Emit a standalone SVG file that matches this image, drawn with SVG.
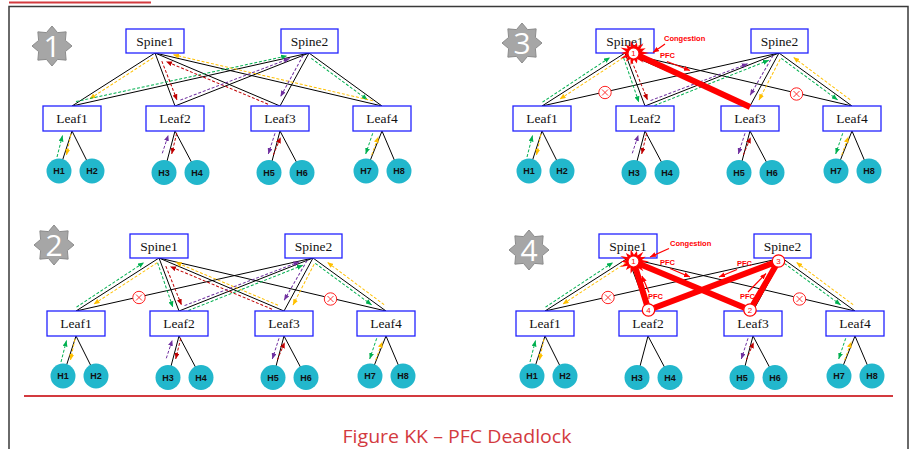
<svg xmlns="http://www.w3.org/2000/svg" width="912" height="449" viewBox="0 0 912 449">
<defs>
<style>
.lk{stroke:#000;stroke-width:1;fill:none}
.f{fill:none;stroke-width:1;stroke-dasharray:3 1.8}
.g{stroke:#00b050;marker-end:url(#mg)}
.y{stroke:#ffc000;marker-end:url(#my)}
.r{stroke:#c00000;marker-end:url(#mr)}
.p{stroke:#7030a0;marker-end:url(#mp)}
.box{fill:#fff;stroke:#2222ff;stroke-width:1.3}
.nl{font-family:"Liberation Serif","Times New Roman",serif;font-size:13.5px;text-anchor:middle;fill:#111}
.hc{fill:#22b7cc}
.ht{font-family:"Liberation Sans",Arial,sans-serif;font-weight:bold;font-size:9px;text-anchor:middle;fill:#111}
.star{fill:#a6a6a6;stroke:#8c8c8c;stroke-width:1}
.sn{font-family:"Open Sans","Liberation Sans",sans-serif;font-size:30px;fill:#fff;text-anchor:middle}
.xc{fill:#fff;stroke:#ff2020;stroke-width:1}
.xx{stroke:#ff2020;stroke-width:0.9;fill:none}
.thick{fill:none;stroke:#ff0000;stroke-width:6;stroke-linejoin:round}
.burst{fill:#ff0000}
.nc{fill:#fff;stroke:#ff0000;stroke-width:1.2}
.nt{font-family:"Liberation Sans",Arial,sans-serif;font-size:8px;fill:#ff0000;text-anchor:middle}
.rt{font-family:"Liberation Sans",Arial,sans-serif;font-weight:bold;font-size:7.5px;fill:#ff0000}
.ra{fill:none;stroke:#ff0000;stroke-width:1.2;marker-end:url(#mra)}
</style>
<marker id="mg" viewBox="0 0 12 10" refX="12" refY="5" markerWidth="6" markerHeight="5" markerUnits="userSpaceOnUse" orient="auto"><path d="M0,0 L12,5 L0,10 z" fill="#00b050"/></marker>
<marker id="my" viewBox="0 0 12 10" refX="12" refY="5" markerWidth="6" markerHeight="5" markerUnits="userSpaceOnUse" orient="auto"><path d="M0,0 L12,5 L0,10 z" fill="#ffc000"/></marker>
<marker id="mr" viewBox="0 0 12 10" refX="12" refY="5" markerWidth="6" markerHeight="5" markerUnits="userSpaceOnUse" orient="auto"><path d="M0,0 L12,5 L0,10 z" fill="#c00000"/></marker>
<marker id="mp" viewBox="0 0 12 10" refX="12" refY="5" markerWidth="6" markerHeight="5" markerUnits="userSpaceOnUse" orient="auto"><path d="M0,0 L12,5 L0,10 z" fill="#7030a0"/></marker>
<marker id="mra" viewBox="0 0 12 10" refX="12" refY="5" markerWidth="6" markerHeight="5" markerUnits="userSpaceOnUse" orient="auto"><path d="M0,0 L12,5 L0,10 z" fill="#ff0000"/></marker>
<path id="links" class="lk" d="M155,53 L72,106 M155,53 L175,106 M155,53 L280,106 M155,53 L382,106 M309,53 L72,106 M309,53 L175,106 M309,53 L280,106 M309,53 L382,106 M72,131 L59,171 M72,131 L92,171 M175,131 L164,172.5 M175,131 L197,172.5 M280,131 L269,172.5 M280,131 L302,172.5 M382,131 L366,171 M382,131 L399,171"/>
<polygon id="star8" class="star" points="0,-20 5.55,-13.4 14.14,-14.14 13.4,-5.55 20,0 13.4,5.55 14.14,14.14 5.55,13.4 0,20 -5.55,13.4 -14.14,14.14 -13.4,5.55 -20,0 -13.4,-5.55 -14.14,-14.14 -5.55,-13.4"/>
<polygon id="burst" class="burst" points="14,0 7.31,1.67 10.81,5.21 5.86,4.68 8.73,10.95 3.25,6.76 2.67,11.7 0,7.5 -3.12,13.65 -3.25,6.76 -7.48,9.38 -5.86,4.68 -12.61,6.08 -7.31,1.67 -12,0 -7.31,-1.67 -12.61,-6.08 -5.86,-4.68 -7.48,-9.38 -3.25,-6.76 -3.12,-13.65 0,-7.5 2.67,-11.7 3.25,-6.76 8.73,-10.95 5.86,-4.68 10.81,-5.21 7.31,-1.67"/>
<g id="hostarrows-all">
<path class="f g" d="M57,157 L62.5,135.5"/>
<path class="f y" d="M71,134 L66.5,155"/>
<path class="f p" d="M162.3,153.3 L168.3,135"/>
<path class="f r" d="M176.7,133.3 L171.7,154"/>
<path class="f p" d="M275,133.3 L268.3,154"/>
<path class="f r" d="M273.3,155 L280.7,137.3"/>
<path class="f g" d="M372.7,133.3 L365.7,154"/>
<path class="f y" d="M371.7,155 L378.3,136.7"/>
</g>
</defs>

<g id="frame">
<path d="M9,449 L9,6.5 L908,6.5 L908,449" fill="none" stroke="#3a3a3a" stroke-width="1.5"/>
<line x1="9" y1="2.5" x2="151" y2="2.5" stroke="#d33a3f" stroke-width="2"/>
<line x1="24" y1="396" x2="893" y2="396" stroke="#d33a3f" stroke-width="2"/>
<text x="457" y="443" font-family="'Open Sans','Liberation Sans',sans-serif" font-size="19" fill="#d33a3f" text-anchor="middle" textLength="229" lengthAdjust="spacingAndGlyphs">Figure KK – PFC Deadlock</text>
</g>

<g id="badge1"><use href="#star8" x="52" y="46"/><text class="sn" x="52" y="56.5">1</text></g>
<g id="badge2"><use href="#star8" x="54" y="245"/><text class="sn" x="54" y="255.5">2</text></g>
<g id="badge3"><use href="#star8" x="522" y="43"/><text class="sn" x="522" y="53.5">3</text></g>
<g id="badge4"><use href="#star8" x="529" y="250"/><text class="sn" x="529" y="260.5">4</text></g>

<g id="panel1">
<g id="p1-connectors">
<use href="#links"/>
<g transform="translate(155,53) rotate(147.44)"><line class="f y" x1="4" y1="-3" x2="80" y2="-3.5"/></g>
<g transform="translate(309,53) rotate(167.39)"><line class="f g" x1="238" y1="3.5" x2="22" y2="2"/></g>
<g transform="translate(309,53) rotate(35.98)"><line class="f g" x1="5" y1="3" x2="75" y2="3.5"/></g>
<g transform="translate(155,53) rotate(13.14)"><line class="f y" x1="223" y1="-3" x2="18" y2="-2.5"/></g>
<g transform="translate(155,53) rotate(22.98)"><line class="f r" x1="124" y1="3" x2="13.5" y2="3.5"/></g>
<g transform="translate(155,53) rotate(69.33)"><line class="f r" x1="10" y1="-3.5" x2="52" y2="-4"/></g>
<g transform="translate(309,53) rotate(158.42)"><line class="f p" x1="137" y1="3.5" x2="20" y2="2"/></g>
<g transform="translate(309,53) rotate(118.69)"><line class="f p" x1="5" y1="4" x2="52" y2="4"/></g>
<use href="#hostarrows-all"/>
</g>
<g id="p1-spine1"><rect class="box" x="126" y="29" width="58" height="24"/><text class="nl" x="155" y="46">Spine1</text></g>
<g id="p1-spine2"><rect class="box" x="281" y="29" width="57" height="24"/><text class="nl" x="309.5" y="46">Spine2</text></g>
<g id="p1-leaf1"><rect class="box" x="43" y="106" width="58" height="25"/><text class="nl" x="72" y="123">Leaf1</text></g>
<g id="p1-leaf2"><rect class="box" x="146" y="106" width="58" height="25"/><text class="nl" x="175" y="123">Leaf2</text></g>
<g id="p1-leaf3"><rect class="box" x="251" y="106" width="58" height="25"/><text class="nl" x="280" y="123">Leaf3</text></g>
<g id="p1-leaf4"><rect class="box" x="353" y="106" width="58" height="25"/><text class="nl" x="382" y="123">Leaf4</text></g>
<g id="p1-h1"><circle class="hc" cx="59" cy="171" r="12.5"/><text class="ht" x="59" y="174.2">H1</text></g>
<g id="p1-h2"><circle class="hc" cx="92" cy="171" r="12.5"/><text class="ht" x="92" y="174.2">H2</text></g>
<g id="p1-h3"><circle class="hc" cx="164" cy="172.5" r="12.5"/><text class="ht" x="164" y="175.7">H3</text></g>
<g id="p1-h4"><circle class="hc" cx="197" cy="172.5" r="12.5"/><text class="ht" x="197" y="175.7">H4</text></g>
<g id="p1-h5"><circle class="hc" cx="269" cy="172.5" r="12.5"/><text class="ht" x="269" y="175.7">H5</text></g>
<g id="p1-h6"><circle class="hc" cx="302" cy="172.5" r="12.5"/><text class="ht" x="302" y="175.7">H6</text></g>
<g id="p1-h7"><circle class="hc" cx="366" cy="171" r="12.5"/><text class="ht" x="366" y="174.2">H7</text></g>
<g id="p1-h8"><circle class="hc" cx="399" cy="171" r="12.5"/><text class="ht" x="399" y="174.2">H8</text></g>
</g>

<g id="panel2" transform="translate(4,205)">
<g id="p2-connectors">
<use href="#links"/>
<g transform="translate(155,53) rotate(147.44)"><line class="f g" x1="96" y1="3" x2="15" y2="4.3"/><line class="f y" x1="4" y1="-3" x2="80" y2="-3.8"/></g>
<g transform="translate(155,53) rotate(69.33)"><line class="f g" x1="4" y1="3" x2="51" y2="4.4"/><line class="f r" x1="10" y1="-3.5" x2="52" y2="-4.5"/></g>
<g transform="translate(155,53) rotate(22.98)"><line class="f r" x1="124" y1="3" x2="13.5" y2="3.5"/><line class="f y" x1="128" y1="-3" x2="17" y2="-2.5"/></g>
<g transform="translate(309,53) rotate(158.42)"><line class="f g" x1="140" y1="-3" x2="12" y2="-3"/><line class="f p" x1="137" y1="3" x2="14" y2="1.5"/></g>
<g transform="translate(309,53) rotate(118.69)"><line class="f p" x1="5" y1="4" x2="51" y2="5"/><line class="f y" x1="5" y1="-4" x2="51" y2="-5"/></g>
<g transform="translate(309,53) rotate(35.98)"><line class="f g" x1="5" y1="3" x2="75" y2="3.5"/><line class="f y" x1="85" y1="-4" x2="14" y2="-5"/></g>
<use href="#hostarrows-all"/>
<g id="p2-fail1"><circle class="xc" cx="135" cy="92.5" r="6.2"/><path class="xx" d="M132,89.5 L138,95.5 M138,89.5 L132,95.5" stroke-width="1.5"/></g>
<g id="p2-fail2"><circle class="xc" cx="326.5" cy="94" r="6.2"/><path class="xx" d="M323.5,91 L329.5,97 M329.5,91 L323.5,97"/></g>
</g>
<g id="p2-spine1"><rect class="box" x="126" y="29" width="58" height="24"/><text class="nl" x="155" y="46">Spine1</text></g>
<g id="p2-spine2"><rect class="box" x="281" y="29" width="57" height="24"/><text class="nl" x="309.5" y="46">Spine2</text></g>
<g id="p2-leaf1"><rect class="box" x="43" y="106" width="58" height="25"/><text class="nl" x="72" y="123">Leaf1</text></g>
<g id="p2-leaf2"><rect class="box" x="146" y="106" width="58" height="25"/><text class="nl" x="175" y="123">Leaf2</text></g>
<g id="p2-leaf3"><rect class="box" x="251" y="106" width="58" height="25"/><text class="nl" x="280" y="123">Leaf3</text></g>
<g id="p2-leaf4"><rect class="box" x="353" y="106" width="58" height="25"/><text class="nl" x="382" y="123">Leaf4</text></g>
<g id="p2-h1"><circle class="hc" cx="59" cy="171" r="12.5"/><text class="ht" x="59" y="174.2">H1</text></g>
<g id="p2-h2"><circle class="hc" cx="92" cy="171" r="12.5"/><text class="ht" x="92" y="174.2">H2</text></g>
<g id="p2-h3"><circle class="hc" cx="164" cy="172.5" r="12.5"/><text class="ht" x="164" y="175.7">H3</text></g>
<g id="p2-h4"><circle class="hc" cx="197" cy="172.5" r="12.5"/><text class="ht" x="197" y="175.7">H4</text></g>
<g id="p2-h5"><circle class="hc" cx="269" cy="172.5" r="12.5"/><text class="ht" x="269" y="175.7">H5</text></g>
<g id="p2-h6"><circle class="hc" cx="302" cy="172.5" r="12.5"/><text class="ht" x="302" y="175.7">H6</text></g>
<g id="p2-h7"><circle class="hc" cx="366" cy="171" r="12.5"/><text class="ht" x="366" y="174.2">H7</text></g>
<g id="p2-h8"><circle class="hc" cx="399" cy="171" r="12.5"/><text class="ht" x="399" y="174.2">H8</text></g>
</g>

<g id="panel3" transform="translate(470,0)">
<g id="p3-connectors">
<use href="#links"/>
<g transform="translate(155,53) rotate(147.44)"><line class="f g" x1="96" y1="3" x2="15" y2="4.3"/><line class="f y" x1="4" y1="-3" x2="80" y2="-3.8"/></g>
<g transform="translate(155,53) rotate(69.33)"><line class="f g" x1="4" y1="3" x2="51" y2="4.4"/><line class="f r" x1="10" y1="-3.5" x2="52" y2="-4.5"/></g>
<g transform="translate(309,53) rotate(158.42)"><line class="f g" x1="140" y1="-3" x2="12" y2="-3"/><line class="f p" x1="137" y1="3" x2="33" y2="1.5"/></g>
<g transform="translate(309,53) rotate(118.69)"><line class="f p" x1="5" y1="4" x2="51" y2="5"/><line class="f y" x1="5" y1="-4" x2="51" y2="-5"/></g>
<g transform="translate(309,53) rotate(35.98)"><line class="f g" x1="5" y1="3" x2="75" y2="3.5"/><line class="f y" x1="85" y1="-4" x2="14" y2="-5"/></g>
<use href="#hostarrows-all"/>
<g id="p3-fail1"><circle class="xc" cx="135" cy="92.5" r="6.2"/><path class="xx" d="M132,89.5 L138,95.5 M138,89.5 L132,95.5"/></g>
<g id="p3-fail2"><circle class="xc" cx="326.5" cy="94" r="6.2"/><path class="xx" d="M323.5,91 L329.5,97 M329.5,91 L323.5,97"/></g>
</g>
<g id="p3-spine1"><rect class="box" x="126" y="29" width="58" height="24"/><text class="nl" x="155" y="46">Spine1</text></g>
<g id="p3-spine2"><rect class="box" x="281" y="29" width="57" height="24"/><text class="nl" x="309.5" y="46">Spine2</text></g>
<g id="p3-leaf1"><rect class="box" x="43" y="106" width="58" height="25"/><text class="nl" x="72" y="123">Leaf1</text></g>
<g id="p3-leaf2"><rect class="box" x="146" y="106" width="58" height="25"/><text class="nl" x="175" y="123">Leaf2</text></g>
<g id="p3-leaf3"><rect class="box" x="251" y="106" width="58" height="25"/><text class="nl" x="280" y="123">Leaf3</text></g>
<g id="p3-leaf4"><rect class="box" x="353" y="106" width="58" height="25"/><text class="nl" x="382" y="123">Leaf4</text></g>
<g id="p3-h1"><circle class="hc" cx="59" cy="171" r="12.5"/><text class="ht" x="59" y="174.2">H1</text></g>
<g id="p3-h2"><circle class="hc" cx="92" cy="171" r="12.5"/><text class="ht" x="92" y="174.2">H2</text></g>
<g id="p3-h3"><circle class="hc" cx="164" cy="172.5" r="12.5"/><text class="ht" x="164" y="175.7">H3</text></g>
<g id="p3-h4"><circle class="hc" cx="197" cy="172.5" r="12.5"/><text class="ht" x="197" y="175.7">H4</text></g>
<g id="p3-h5"><circle class="hc" cx="269" cy="172.5" r="12.5"/><text class="ht" x="269" y="175.7">H5</text></g>
<g id="p3-h6"><circle class="hc" cx="302" cy="172.5" r="12.5"/><text class="ht" x="302" y="175.7">H6</text></g>
<g id="p3-h7"><circle class="hc" cx="366" cy="171" r="12.5"/><text class="ht" x="366" y="174.2">H7</text></g>
<g id="p3-h8"><circle class="hc" cx="399" cy="171" r="12.5"/><text class="ht" x="399" y="174.2">H8</text></g>
</g>
<g id="p3-pfc">
<line class="thick" x1="633" y1="53" x2="750" y2="107"/>
<g transform="translate(634,53) scale(1.08,0.9)"><use href="#burst"/></g>
<circle class="nc" cx="633.5" cy="53.5" r="5.5"/><text class="nt" x="633.5" y="56.3">1</text>
<text class="rt" x="664" y="41">Congestion</text>
<line class="ra" x1="665" y1="44" x2="653" y2="52.5"/>
<text class="rt" x="660" y="57.5">PFC</text>
<line class="ra" x1="667" y1="61.5" x2="690" y2="70.5"/>
</g>

<g id="panel4" transform="translate(473,205)">
<g id="p4-connectors">
<use href="#links"/>
<g transform="translate(155,53) rotate(147.44)"><line class="f g" x1="96" y1="3" x2="15" y2="4.3"/><line class="f y" x1="4" y1="-3" x2="80" y2="-3.8"/></g>
<g transform="translate(309,53) rotate(35.98)"><line class="f g" x1="5" y1="3" x2="75" y2="3.5"/><line class="f y" x1="85" y1="-4" x2="14" y2="-5"/></g>
<path class="f g" d="M57,157 L62.5,135.5"/>
<path class="f y" d="M71,134 L66.5,155"/>
<path class="f p" d="M275,133.3 L268.3,154"/>
<path class="f r" d="M273.3,155 L280.7,137.3"/>
<path class="f g" d="M372.7,133.3 L365.7,154"/>
<path class="f y" d="M371.7,155 L378.3,136.7"/>
<g id="p4-fail1"><circle class="xc" cx="135" cy="92.5" r="6.2"/><path class="xx" d="M132,89.5 L138,95.5 M138,89.5 L132,95.5"/></g>
<g id="p4-fail2"><circle class="xc" cx="326.5" cy="94" r="6.2"/><path class="xx" d="M323.5,91 L329.5,97 M329.5,91 L323.5,97"/></g>
</g>
<g id="p4-spine1"><rect class="box" x="126" y="29" width="58" height="24"/><text class="nl" x="155" y="46">Spine1</text></g>
<g id="p4-spine2"><rect class="box" x="281" y="29" width="57" height="24"/><text class="nl" x="309.5" y="46">Spine2</text></g>
<g id="p4-leaf1"><rect class="box" x="43" y="106" width="58" height="25"/><text class="nl" x="72" y="123">Leaf1</text></g>
<g id="p4-leaf2"><rect class="box" x="146" y="106" width="58" height="25"/><text class="nl" x="175" y="123">Leaf2</text></g>
<g id="p4-leaf3"><rect class="box" x="251" y="106" width="58" height="25"/><text class="nl" x="280" y="123">Leaf3</text></g>
<g id="p4-leaf4"><rect class="box" x="353" y="106" width="58" height="25"/><text class="nl" x="382" y="123">Leaf4</text></g>
<g id="p4-h1"><circle class="hc" cx="59" cy="171" r="12.5"/><text class="ht" x="59" y="174.2">H1</text></g>
<g id="p4-h2"><circle class="hc" cx="92" cy="171" r="12.5"/><text class="ht" x="92" y="174.2">H2</text></g>
<g id="p4-h3"><circle class="hc" cx="164" cy="172.5" r="12.5"/><text class="ht" x="164" y="175.7">H3</text></g>
<g id="p4-h4"><circle class="hc" cx="197" cy="172.5" r="12.5"/><text class="ht" x="197" y="175.7">H4</text></g>
<g id="p4-h5"><circle class="hc" cx="269" cy="172.5" r="12.5"/><text class="ht" x="269" y="175.7">H5</text></g>
<g id="p4-h6"><circle class="hc" cx="302" cy="172.5" r="12.5"/><text class="ht" x="302" y="175.7">H6</text></g>
<g id="p4-h7"><circle class="hc" cx="366" cy="171" r="12.5"/><text class="ht" x="366" y="174.2">H7</text></g>
<g id="p4-h8"><circle class="hc" cx="399" cy="171" r="12.5"/><text class="ht" x="399" y="174.2">H8</text></g>
</g>
<g id="p4-pfc">
<path class="thick" d="M633.5,261.5 L750,310 L778.5,261 L648.5,310 Z"/>
<g transform="translate(634,261.5) scale(1.08,0.9)"><use href="#burst"/></g>
<circle class="nc" cx="633.5" cy="261.5" r="5.5"/><text class="nt" x="633.5" y="264.3">1</text>
<circle class="nc" cx="750" cy="310" r="6.2"/><text class="nt" x="750" y="312.8">2</text>
<circle class="nc" cx="778.5" cy="261" r="6.2"/><text class="nt" x="778.5" y="263.8">3</text>
<circle class="nc" cx="648.5" cy="310" r="6.2"/><text class="nt" x="648.5" y="312.8">4</text>
<text class="rt" x="670" y="246">Congestion</text>
<line class="ra" x1="669" y1="248.5" x2="650" y2="257"/>
<text class="rt" x="660" y="265">PFC</text>
<line class="ra" x1="670" y1="268.5" x2="690" y2="277"/>
<text class="rt" x="737" y="266">PFC</text>
<line class="ra" x1="737" y1="269.5" x2="719" y2="277"/>
<text class="rt" x="648" y="298.5">PFC</text>
<line class="ra" x1="649" y1="292.5" x2="642" y2="276"/>
<text class="rt" x="740" y="299">PFC</text>
<line class="ra" x1="748" y1="292" x2="766" y2="273.5"/>
</g>
</svg>
